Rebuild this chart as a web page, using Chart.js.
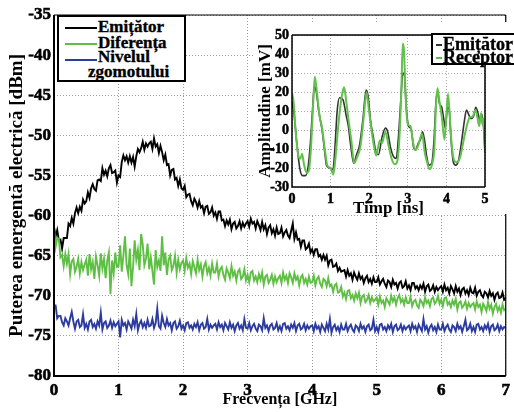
<!DOCTYPE html>
<html><head><meta charset="utf-8">
<script src="https://cdn.jsdelivr.net/npm/chart.js@4/dist/chart.umd.min.js"></script>
<style>
html,body{margin:0;padding:0;background:#fff;overflow:hidden}
#wrap{position:relative;width:514px;height:412px;font-family:"Liberation Serif","Times New Roman",serif;font-weight:bold;overflow:hidden}
#main{position:absolute;left:0;top:0}
#inset{position:absolute;left:253px;top:22px}
.leg{position:absolute;background:#fff;border:2.5px solid #000;box-sizing:border-box}
.leg span{position:absolute;white-space:nowrap;font-size:17px;line-height:16px;color:#000;-webkit-text-stroke:0.35px #000}
.leg i{position:absolute;height:2px;display:block}
</style></head>
<body>
<div id="wrap">
<canvas id="main" width="514" height="412"></canvas>
<canvas id="inset" width="261" height="200"></canvas>
<div class="leg" style="left:57px;top:15px;width:129px;height:67px">
  <i style="left:6px;top:10px;width:32px;background:#000"></i><span style="left:39px;top:2px">Emițător</span>
  <i style="left:6px;top:26px;width:32px;background:#5fbf45"></i><span style="left:39px;top:18px">Diferența</span>
  <i style="left:6px;top:42px;width:32px;background:#2c3b9e"></i><span style="left:39px;top:32px">Nivelul</span>
  <span style="left:29px;top:47px">zgomotului</span>
</div>
<div class="leg" style="left:431px;top:33px;width:90px;height:32px;border-width:2px">
  <i style="left:3px;top:9px;width:6px;background:#333"></i><span style="left:10px;top:1px;font-size:18px">Emițător</span>
  <i style="left:3px;top:22px;width:6px;background:#5fbf45"></i><span style="left:10px;top:14px;font-size:18px">Receptor</span>
</div>
</div>
<script>
// ---- main spectrum data (dBm), sampled every 0.025 GHz from 0 to 7 GHz ----
const freqGHz = Array.from({length: 281}, (_, i) => Math.round(i * 25) / 1000);
const emitatorDbm = [
-61.4,-62.6,-61.8,-63.1,-63.0,-64.1,-62.8,-62.8,-62.8,-61.0,-61.3,-60.3,-61.0,-59.7,-59.0,-59.7,-58.9,-59.4,-58.0,-58.5,
-58.2,-57.1,-57.8,-56.6,-56.1,-56.7,-56.9,-55.6,-55.5,-55.7,-54.1,-54.9,-54.4,-55.1,-54.1,-53.7,-54.7,-54.6,-54.4,-55.9,
-55.0,-55.2,-53.3,-52.5,-53.1,-52.6,-53.4,-52.6,-53.4,-52.7,-53.9,-52.6,-51.7,-52.1,-51.6,-50.8,-51.8,-51.0,-51.4,-51.0,
-50.8,-51.7,-50.4,-51.4,-51.1,-52.2,-51.3,-52.1,-53.1,-52.4,-53.7,-53.6,-55.0,-54.3,-54.2,-55.5,-55.3,-56.3,-55.5,-56.6,
-56.8,-56.3,-57.7,-57.4,-57.3,-58.2,-58.7,-57.9,-58.3,-59.0,-58.2,-59.0,-58.8,-59.7,-58.9,-58.8,-59.8,-59.6,-59.0,-60.0,
-59.6,-60.4,-59.5,-59.5,-60.6,-60.5,-61.3,-60.6,-61.1,-60.5,-61.7,-61.0,-60.8,-61.6,-61.3,-60.7,-61.6,-60.9,-61.4,-61.0,
-60.7,-61.4,-60.4,-61.0,-60.8,-61.6,-60.7,-61.2,-61.8,-60.8,-61.7,-61.2,-62.3,-61.5,-61.2,-62.2,-61.7,-62.5,-61.5,-62.3,
-62.2,-61.5,-62.6,-62.1,-61.8,-62.5,-62.8,-61.9,-61.0,-62.9,-62.1,-63.0,-62.9,-63.9,-63.1,-63.1,-64.2,-64.0,-63.5,-64.6,
-64.2,-64.9,-64.2,-64.2,-65.1,-64.9,-65.5,-64.9,-65.5,-65.0,-66.2,-65.6,-65.5,-66.4,-66.3,-66.0,-66.9,-66.5,-67.0,-66.9,
-66.8,-67.6,-66.8,-67.5,-67.2,-68.0,-67.1,-67.6,-68.0,-67.2,-67.9,-67.6,-68.4,-67.8,-67.5,-68.3,-67.9,-68.5,-67.7,-68.3,
-68.3,-67.7,-68.6,-68.2,-67.9,-68.5,-68.9,-68.1,-68.3,-68.9,-68.0,-68.6,-68.4,-69.1,-68.4,-68.2,-69.0,-68.8,-68.2,-69.1,
-68.7,-69.3,-68.4,-68.4,-69.1,-68.8,-69.3,-68.7,-69.1,-68.5,-69.5,-68.8,-68.6,-69.4,-69.2,-68.7,-69.5,-68.9,-69.3,-69.0,
-68.8,-69.5,-68.6,-69.3,-69.0,-69.7,-68.8,-69.2,-69.7,-68.8,-69.5,-69.1,-69.9,-69.2,-69.0,-69.7,-69.3,-69.9,-69.0,-69.6,
-69.7,-69.0,-70.0,-69.5,-69.3,-69.9,-70.2,-69.5,-69.7,-70.2,-69.4,-70.0,-69.7,-70.5,-69.8,-69.6,-70.3,-70.2,-69.6,-70.5,
-70.3];
const diferentaDbm = [
-61.5,-63.9,-62.8,-62.9,-65.2,-64.9,-66.3,-64.8,-66.0,-64.8,-67.3,-65.7,-65.4,-67.0,-66.4,-65.4,-67.2,-65.8,-66.8,-66.1,
-65.5,-67.5,-64.8,-66.7,-65.8,-67.9,-65.1,-66.2,-67.5,-64.7,-66.6,-65.4,-67.8,-65.6,-64.6,-69.8,-65.6,-67.2,-64.6,-66.4,
-66.3,-63.7,-67.0,-65.0,-62.6,-66.2,-67.3,-64.1,-68.8,-66.4,-63.1,-65.5,-64.3,-66.8,-62.3,-63.6,-66.2,-65.4,-63.5,-66.7,
-65.2,-66.9,-68.6,-64.3,-66.4,-65.6,-66.9,-62.6,-66.2,-64.6,-67.4,-65.5,-65.0,-66.8,-66.3,-65.0,-67.1,-65.5,-66.7,-65.9,
-65.6,-66.9,-65.3,-66.5,-66.0,-67.3,-65.7,-66.4,-67.2,-65.5,-66.8,-66.1,-67.6,-66.3,-65.8,-67.2,-66.5,-67.5,-66.0,-67.1,
-67.1,-66.0,-67.6,-66.7,-66.4,-67.4,-68.0,-66.6,-67.1,-67.8,-66.3,-67.5,-67.0,-68.1,-67.0,-66.7,-67.9,-67.6,-66.7,-68.1,
-67.4,-68.3,-67.1,-66.9,-68.1,-67.6,-68.3,-67.3,-68.0,-67.1,-68.6,-67.6,-67.4,-68.4,-68.0,-67.4,-68.5,-67.6,-68.3,-67.8,
-67.5,-68.4,-67.1,-68.0,-67.5,-68.4,-67.2,-67.7,-68.4,-67.2,-68.0,-67.6,-68.7,-67.7,-67.4,-68.4,-67.9,-68.6,-67.6,-68.4,
-68.3,-67.5,-68.7,-67.9,-67.6,-68.5,-68.9,-67.9,-68.1,-68.8,-67.8,-68.8,-68.6,-69.5,-68.7,-68.5,-69.6,-69.5,-68.9,-70.1,
-69.6,-70.4,-69.4,-69.3,-70.3,-69.9,-70.6,-69.7,-70.3,-69.6,-70.9,-70.1,-69.9,-70.8,-70.5,-69.9,-70.9,-70.2,-70.7,-70.5,
-70.2,-71.1,-70.1,-70.9,-70.6,-71.4,-70.3,-70.7,-71.1,-70.0,-70.7,-70.2,-71.1,-70.3,-69.9,-70.8,-70.4,-71.1,-70.2,-70.9,
-70.9,-70.1,-71.3,-70.7,-70.5,-71.2,-71.5,-70.5,-70.8,-71.3,-70.2,-70.9,-70.6,-71.3,-70.4,-70.2,-71.0,-70.7,-70.0,-71.0,
-70.5,-71.3,-70.3,-70.2,-71.1,-70.8,-71.4,-70.6,-71.1,-70.4,-71.7,-70.9,-70.7,-71.5,-71.2,-70.7,-71.6,-70.9,-71.4,-71.1,
-70.9,-71.7,-70.7,-71.4,-71.1,-72.0,-71.0,-71.4,-71.9,-70.8,-71.6,-71.1,-72.2,-71.4,-71.0,-71.9,-71.4,-72.1,-71.1,-71.8,
-71.6];
const zgomotDbm = [
-71.2,-71.2,-72.8,-72.5,-72.5,-73.3,-73.7,-72.8,-73.2,-73.7,-72.8,-72.0,-73.2,-74.1,-73.2,-73.0,-73.9,-73.7,-72.3,-74.0,
-73.5,-74.2,-73.2,-73.0,-73.9,-73.5,-74.1,-73.2,-73.7,-72.1,-74.2,-73.4,-73.2,-74.0,-73.7,-73.1,-74.0,-73.3,-73.8,-73.5,
-73.2,-75.2,-73.0,-73.7,-73.4,-74.2,-73.2,-73.6,-74.1,-73.0,-73.8,-72.3,-74.3,-73.5,-73.1,-73.9,-73.4,-74.0,-73.0,-73.8,
-73.7,-72.9,-74.0,-73.4,-71.6,-73.8,-74.1,-72.5,-73.4,-73.9,-72.9,-73.7,-73.4,-74.3,-73.4,-73.2,-74.1,-73.8,-73.1,-74.1,
-73.7,-74.3,-73.4,-73.3,-74.0,-73.7,-74.2,-73.5,-73.9,-73.3,-74.3,-73.6,-73.4,-74.1,-73.9,-72.9,-74.2,-73.6,-74.0,-73.7,
-73.5,-74.2,-73.3,-73.9,-73.6,-74.3,-73.4,-73.8,-74.2,-73.3,-74.0,-73.6,-74.4,-73.7,-73.4,-74.1,-73.7,-74.3,-72.9,-74.0,
-74.1,-73.4,-74.3,-73.8,-73.5,-74.1,-74.4,-73.6,-73.8,-74.3,-72.8,-74.0,-73.7,-74.4,-73.7,-73.5,-74.2,-74.0,-73.4,-74.3,
-73.8,-74.4,-73.5,-73.4,-74.1,-73.8,-74.3,-73.6,-74.0,-73.4,-74.4,-73.7,-73.5,-74.2,-74.0,-73.5,-74.3,-73.7,-74.1,-73.8,
-73.7,-74.4,-73.5,-74.1,-73.8,-74.5,-73.6,-74.0,-74.4,-73.5,-74.2,-72.9,-74.6,-73.9,-73.6,-74.3,-73.9,-74.5,-73.6,-74.2,
-74.2,-73.5,-74.4,-73.9,-73.6,-74.2,-74.5,-73.7,-73.9,-74.4,-73.5,-74.1,-73.8,-74.5,-73.8,-73.6,-74.3,-74.1,-73.0,-74.4,
-73.9,-74.5,-73.6,-73.5,-74.2,-73.9,-74.4,-73.7,-74.1,-73.5,-74.5,-73.8,-73.6,-74.3,-74.1,-73.6,-74.4,-73.8,-74.2,-73.9,
-73.7,-74.4,-73.5,-74.1,-73.8,-74.5,-73.6,-74.0,-74.4,-72.9,-74.2,-73.8,-74.6,-73.9,-73.6,-74.3,-73.9,-74.5,-73.6,-74.2,
-74.2,-73.5,-74.4,-73.9,-73.6,-74.2,-74.5,-73.7,-73.9,-74.4,-73.5,-74.1,-73.8,-74.5,-73.8,-73.0,-74.3,-74.1,-73.5,-74.4,
-73.9,-74.5,-73.6,-73.5,-74.2,-73.9,-74.4,-73.7,-74.1,-73.5,-74.5,-73.8,-73.6,-74.3,-74.1,-73.6,-74.4,-73.8,-74.2,-73.9,
-74.0];

// ---- inset time-domain data ----
const timpEmitNs = [0,0.05,0.12,0.2,0.27,0.35,0.42,0.48,0.53,0.58,0.63,0.7,0.78,0.85,0.9,1.0,1.06,1.11,1.17,1.23,1.32,1.4,1.46,1.52,1.6,1.67,1.75,1.84,1.92,1.97,2.04,2.1,2.18,2.24,2.33,2.42,2.48,2.55,2.63,2.7,2.76,2.82,2.87,2.91,2.96,3.02,3.08,3.15,3.2,3.27,3.33,3.38,3.43,3.49,3.55,3.62,3.68,3.73,3.77,3.82,3.88,3.93,3.97,4.03,4.07,4.12,4.18,4.24,4.32,4.4,4.46,4.52,4.57,4.63,4.7,4.76,4.81,4.87,4.91,4.96,5.0];
const emitatorMv = [15,9,-6,-20,-24,-24,-19,-6,10,23,20,9,0,-12,-19,-20,-21,-10,10,17,16,8,2,-8,-17.5,-13,-8,6,21,18,4,-3,-12,-13,-4,1,-1,-9,-14,-15,-3,16,30,29,12,2,0.8,-9,-10.5,-7,-5,-1,-5,-14,-18.5,-17.5,-5,15,20,14,12,6,1,12,11,-5,-17,-18.5,-15.5,-5,4,10.5,8.5,6,7,12,9.5,5,8.5,2,-12];
const timpRecNs = [0,0.04,0.1,0.17,0.22,0.26,0.31,0.38,0.44,0.49,0.54,0.59,0.64,0.71,0.78,0.85,0.92,1.0,1.07,1.12,1.18,1.25,1.31,1.35,1.4,1.46,1.54,1.61,1.69,1.77,1.86,1.93,1.99,2.06,2.12,2.18,2.23,2.28,2.33,2.42,2.5,2.58,2.66,2.72,2.78,2.83,2.87,2.9,2.95,3.0,3.07,3.14,3.2,3.27,3.37,3.44,3.5,3.56,3.63,3.69,3.73,3.77,3.82,3.88,3.95,4.0,4.04,4.08,4.13,4.2,4.28,4.36,4.45,4.52,4.6,4.68,4.75,4.8,4.85,4.9,4.93,4.96,5.0];
const receptorMv = [19.5,15,-2,-14,-15,-12.5,-18,-22.5,-21,-10,10,28,21,8,1,-10,-19,-20,-23.5,-16,-2,12,20,22.5,16,6,-6,-17.5,-14,-9,7,20,11,0,-8,-13.5,-9,-5.5,-7,-1,-8,-15,-18,-17,-5,19,45.5,42,15,3,2,-7,-10.5,-8,-2,-12,-17,-20.5,-18,-9,13,22,15,7,-5,8,19,10,-6,-16,-17,-14,-5,1.5,6.5,7,10.5,7,2,9,3,6,-12];

const FONT = '"Liberation Serif","Times New Roman",serif';
const boxPlugin = {
  id: 'box',
  beforeDraw(c, a, o) {
    if (!o.bgHeight) return;
    const ctx = c.ctx;
    ctx.save(); ctx.fillStyle = '#fff'; ctx.fillRect(0, 0, c.width, o.bgHeight); ctx.restore();
  },
  afterDatasetsDraw(c, a, o) {
    const {ctx, chartArea: r} = c;
    ctx.save();
    ctx.strokeStyle = '#000';
    ctx.lineWidth = o.top;
    ctx.beginPath(); ctx.moveTo(r.left, r.top); ctx.lineTo(r.right, r.top);
    ctx.moveTo(r.right, r.top); ctx.lineTo(r.right, r.bottom); ctx.stroke();
    ctx.lineWidth = o.axis;
    ctx.beginPath(); ctx.moveTo(r.left, r.top); ctx.lineTo(r.left, r.bottom); ctx.lineTo(r.right, r.bottom); ctx.stroke();
    ctx.restore();
  }
};

const pairs = (xs, ys) => xs.map((x, i) => ({x, y: ys[i]}));
const tickFont = size => ({family: FONT, size, weight: 'bold'});

new Chart(document.getElementById('main'), {
  type: 'line',
  data: {
    datasets: [
      {label: 'Emițător', data: pairs(freqGHz, emitatorDbm), borderColor: '#000', borderWidth: 1.9, pointRadius: 0, order: 2},
      {label: 'Diferența', data: pairs(freqGHz, diferentaDbm), borderColor: '#5fbf45', borderWidth: 1.9, pointRadius: 0, order: 1},
      {label: 'Nivelul zgomotului', data: pairs(freqGHz, zgomotDbm), borderColor: '#2c3b9e', borderWidth: 1.9, pointRadius: 0, order: 3}
    ]
  },
  options: {
    responsive: false, animation: false, devicePixelRatio: 1,
    layout: {padding: {top: 15, right: 0, left: 0, bottom: 0}, autoPadding: false},
    plugins: {legend: {display: false}, tooltip: {enabled: false}, box: {top: 1.2, axis: 2}},
    scales: {
      x: {
        type: 'linear', min: 0, max: 7,
        afterFit: s => { s.height = 36; },
        ticks: {stepSize: 1, autoSkip: false, maxRotation: 0, padding: 4, color: '#000', textStrokeColor: '#000', textStrokeWidth: 0.6, font: tickFont(17)},
        grid: {color: '#9a9a9a', lineWidth: 1, drawTicks: false},
        border: {display: false, dash: [1, 2]},
        title: {display: true, text: 'Frecvența [GHz]', color: '#000', font: {family: FONT, size: 16, weight: 'bold', lineHeight: 1.2}, padding: {top: 0, bottom: 3}}
      },
      y: {
        min: -80, max: -35,
        afterFit: s => { s.width = 54; },
        ticks: {stepSize: 5, autoSkip: false, padding: 3, color: '#000', textStrokeColor: '#000', textStrokeWidth: 0.6, font: tickFont(17)},
        grid: {color: '#9a9a9a', lineWidth: 1, drawTicks: false},
        border: {display: false, dash: [1, 2]},
        title: {display: true, text: 'Puterea emergentă electrică [dBm]', color: '#000', font: {family: FONT, size: 19, weight: 'bold', lineHeight: 1.2}, padding: {top: 6, bottom: 0}}
      }
    }
  },
  plugins: [boxPlugin]
});

new Chart(document.getElementById('inset'), {
  type: 'line',
  data: {
    datasets: [
      {label: 'Emițător', data: pairs(timpEmitNs, emitatorMv), borderColor: '#333', borderWidth: 1.6, pointRadius: 0, cubicInterpolationMode: 'monotone', order: 2},
      {label: 'Receptor', data: pairs(timpRecNs, receptorMv), borderColor: '#62c04c', borderWidth: 2, pointRadius: 0, cubicInterpolationMode: 'monotone', order: 1}
    ]
  },
  options: {
    responsive: false, animation: false, devicePixelRatio: 1,
    layout: {padding: {top: 13, right: 29, left: 0, bottom: 0}, autoPadding: false},
    plugins: {legend: {display: false}, tooltip: {enabled: false}, box: {top: 1.5, axis: 1.5, bgHeight: 192}},
    scales: {
      x: {
        type: 'linear', min: 0, max: 5,
        afterFit: s => { s.height = 35; },
        ticks: {stepSize: 1, autoSkip: false, maxRotation: 0, padding: 4, color: '#000', textStrokeColor: '#000', textStrokeWidth: 0.5, font: tickFont(14)},
        grid: {color: '#a8a8a8', lineWidth: 1, drawTicks: false},
        border: {display: false, dash: [1, 2]},
        title: {display: true, text: 'Timp [ns]', color: '#000', font: {family: FONT, size: 17, weight: 'bold', lineHeight: 1}, padding: {top: 0, bottom: 5}}
      },
      y: {
        min: -30, max: 50,
        afterFit: s => { s.width = 39; },
        ticks: {stepSize: 10, autoSkip: false, padding: 3, color: '#000', textStrokeColor: '#000', textStrokeWidth: 0.5, font: tickFont(14)},
        grid: {color: '#a8a8a8', lineWidth: 1, drawTicks: false},
        border: {display: false, dash: [1, 2]},
        title: {display: true, text: 'Amplitudine [mV]', color: '#000', font: {family: FONT, size: 17, weight: 'bold', lineHeight: 1.2}, padding: {top: 2, bottom: 0}}
      }
    }
  },
  plugins: [boxPlugin]
});
</script>
</body></html>
